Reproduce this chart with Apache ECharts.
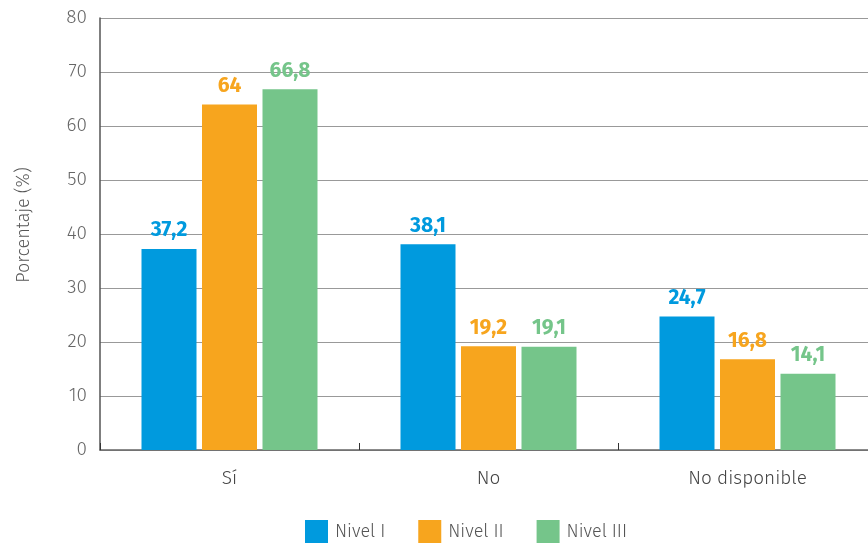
<!DOCTYPE html>
<html>
<head>
<meta charset="utf-8">
<script src="https://cdn.jsdelivr.net/npm/echarts@6/dist/echarts.min.js"></script>
<style>
  html, body { margin: 0; padding: 0; background: #fff; }
  #chart { width: 868px; height: 545px; }
</style>
</head>
<body>
<div id="chart"></div>
<script>
const categories = ['Sí', 'No', 'No disponible'];
const seriesNames = ['Nivel I', 'Nivel II', 'Nivel III'];
const nivel1 = [37.2, 38.1, 24.7];
const nivel2 = [64, 19.2, 16.8];
const nivel3 = [66.8, 19.1, 14.1];
const yTicks = [0, 10, 20, 30, 40, 50, 60, 70, 80];

const colors = ['#009ADE', '#F7A51E', '#75C58A'];
const fontFamily = '"Fira Sans", "Noto Sans", "Open Sans", sans-serif';

const fmt = v => String(v).replace('.', ',');

function makeSeries(name, data, color) {
  return {
    name: name,
    type: 'bar',
    data: data,
    barWidth: 55,
    barGap: '10%',
    itemStyle: { color: color },
    label: {
      show: true,
      position: 'top',
      distance: 8,
      color: color,
      fontFamily: fontFamily,
      fontWeight: 'bold',
      fontSize: 21,
      formatter: p => fmt(p.value)
    }
  };
}

const chart = echarts.init(document.getElementById('chart'), null, { renderer: 'canvas' });
chart.setOption({
  animation: false,
  backgroundColor: '#ffffff',
  textStyle: { fontFamily: fontFamily },
  grid: { left: 100, width: 777, top: 18, height: 432, containLabel: false, outerBoundsMode: 'none' },
  legend: {
    data: seriesNames,
    top: 515,
    left: 300,
    itemWidth: 23,
    itemHeight: 23,
    itemGap: 33,
    icon: 'rect',
    textStyle: { color: '#555', fontSize: 18, fontWeight: 300, fontFamily: fontFamily, padding: [0, 0, 0, 2] }
  },
  xAxis: {
    type: 'category',
    data: categories,
    axisLine: { show: true, lineStyle: { color: '#666', width: 1.5 } },
    axisTick: { show: true, inside: true, length: 7, lineStyle: { color: '#333' } },
    axisLabel: { color: '#444', fontSize: 19, fontWeight: 300, margin: 19, fontFamily: fontFamily }
  },
  yAxis: {
    type: 'value',
    min: yTicks[0],
    max: yTicks[yTicks.length - 1],
    interval: 10,
    name: 'Porcentaje (%)',
    nameLocation: 'middle',
    nameGap: 67,
    nameRotate: 90,
    nameTextStyle: { color: '#555', fontSize: 18, fontWeight: 300, fontFamily: fontFamily, padding: [0, 0, 0, 18] },
    axisLine: { show: true, lineStyle: { color: '#555', width: 1.5 } },
    axisTick: { show: false },
    axisLabel: { color: '#666', fontSize: 19, fontWeight: 300, margin: 13, fontFamily: fontFamily },
    splitLine: { show: true, lineStyle: { color: '#999', width: 1.2 } }
  },
  series: [
    makeSeries(seriesNames[0], nivel1, colors[0]),
    makeSeries(seriesNames[1], nivel2, colors[1]),
    makeSeries(seriesNames[2], nivel3, colors[2])
  ]
});
</script>
</body>
</html>
